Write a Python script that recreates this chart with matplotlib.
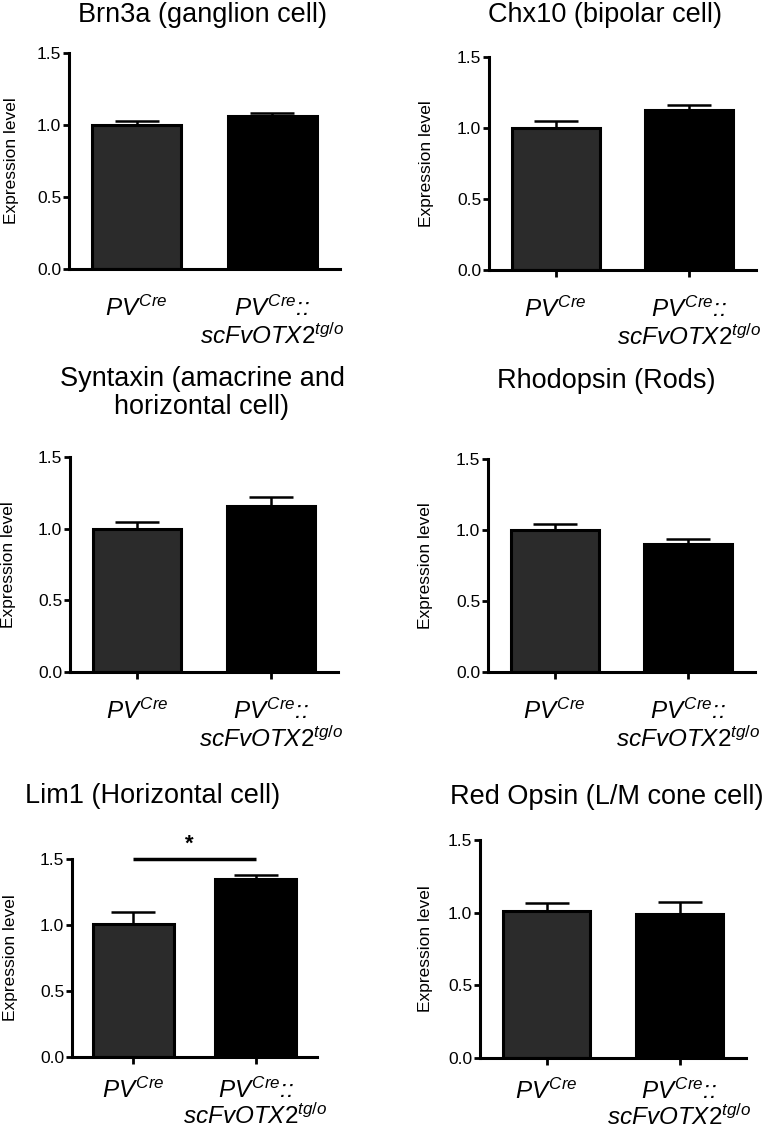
import matplotlib
matplotlib.use("Agg")
import matplotlib.pyplot as plt

plt.rcParams['font.family'] = ['Liberation Sans', 'DejaVu Sans']
plt.rcParams['mathtext.fontset'] = 'custom'
plt.rcParams['mathtext.it'] = 'Liberation Sans:italic'
plt.rcParams['mathtext.rm'] = 'Liberation Sans'

# ---- data ----
groups = [r"$\mathit{PV}^{\mathit{Cre}}$",
          "$\\mathit{PV}^{\\mathit{Cre}}$::\n$\\mathit{scFvOTX2}^{\\mathit{tg/o}}$"]
titles = ["Brn3a (ganglion cell)", "Chx10 (bipolar cell)",
          "Syntaxin (amacrine and\nhorizontal cell)", "Rhodopsin (Rods)",
          "Lim1 (Horizontal cell)", "Red Opsin (L/M cone cell)"]
brn3a_mean = [1.00, 1.06]
brn3a_sem = [0.03, 0.02]
chx10_mean = [1.00, 1.13]
chx10_sem = [0.05, 0.035]
syntaxin_mean = [1.00, 1.16]
syntaxin_sem = [0.045, 0.06]
rhodopsin_mean = [1.00, 0.90]
rhodopsin_sem = [0.045, 0.04]
lim1_mean = [1.01, 1.35]
lim1_sem = [0.085, 0.03]
redopsin_mean = [1.01, 0.99]
redopsin_sem = [0.055, 0.08]
yticks = [0.0, 0.5, 1.0, 1.5]
ytick_labels = ["0.0", "0.5", "1.0", "1.5"]

means = [brn3a_mean, chx10_mean, syntaxin_mean, rhodopsin_mean, lim1_mean, redopsin_mean]
sems = [brn3a_sem, chx10_sem, syntaxin_sem, rhodopsin_sem, lim1_sem, redopsin_sem]

# ---- layout (pixels) ----
W, H = 766, 1133
fig = plt.figure(figsize=(W / 100, H / 100), dpi=100)

# left, right, top, bottom of axes in pixels
boxes = [(69, 340, 53, 269), (489, 756, 57, 270),
         (70, 338, 457, 672), (488, 755, 459, 672),
         (72, 317, 859, 1057), (480, 746, 840, 1058)]
title_pos = [(202, 15), (605, 15), (202, 393), (606, 381), (153, 796), (607, 797)]
ylabel_x = [12, 426, 9, 425, 11, 425]

bar_colors = ['#2b2b2b', '#000000']
x = [0, 1]

for i in range(6):
    l, r, t, b = boxes[i]
    ax = fig.add_axes([l / W, 1 - b / H, (r - l) / W, (b - t) / H])
    ax.bar(x, means[i], width=0.66, color=bar_colors, edgecolor='black',
           linewidth=2.2, zorder=2)
    ax.errorbar(x, means[i], yerr=[[0, 0], sems[i]], fmt='none', ecolor='black',
                elinewidth=1.8, capsize=16, capthick=1.8, zorder=1)
    ax.set_xlim(-0.5, 1.5)
    ax.set_ylim(0, 1.5)
    ax.set_yticks(yticks, ytick_labels, fontsize=12.5)
    ax.set_xticks(x, groups, fontsize=17.5, style='italic')
    bottom_row = i >= 4
    for lab in ax.get_xticklabels():
        lab.set_linespacing(1.02 if bottom_row else 1.15)
    for s in ['top', 'right']:
        ax.spines[s].set_visible(False)
    for s in ['left', 'bottom']:
        ax.spines[s].set_linewidth(2.2)
    ax.tick_params(axis='y', length=4.5, width=2, pad=1)
    ax.tick_params(axis='x', length=0 if i == 0 else 5, width=2,
                   pad=(19 if i == 0 else (10 if bottom_row else 14)))
    fig.text(title_pos[i][0] / W, 1 - title_pos[i][1] / H, titles[i],
             ha='center', va='center', fontsize=19.5, linespacing=1.15)
    fig.text(ylabel_x[i] / W, 1 - (t + b) / 2 / H, "Expression level",
             rotation=90, ha='center', va='center', fontsize=12.5)
    if i == 4:
        ax.plot([0, 1], [1.5, 1.5], color='black', lw=2.5, clip_on=False,
                solid_capstyle='butt')
        ax.text(0.46, 1.535, "*", ha='center', va='bottom', fontsize=16,
                fontweight='bold')

fig.savefig("out.png", dpi=100)
